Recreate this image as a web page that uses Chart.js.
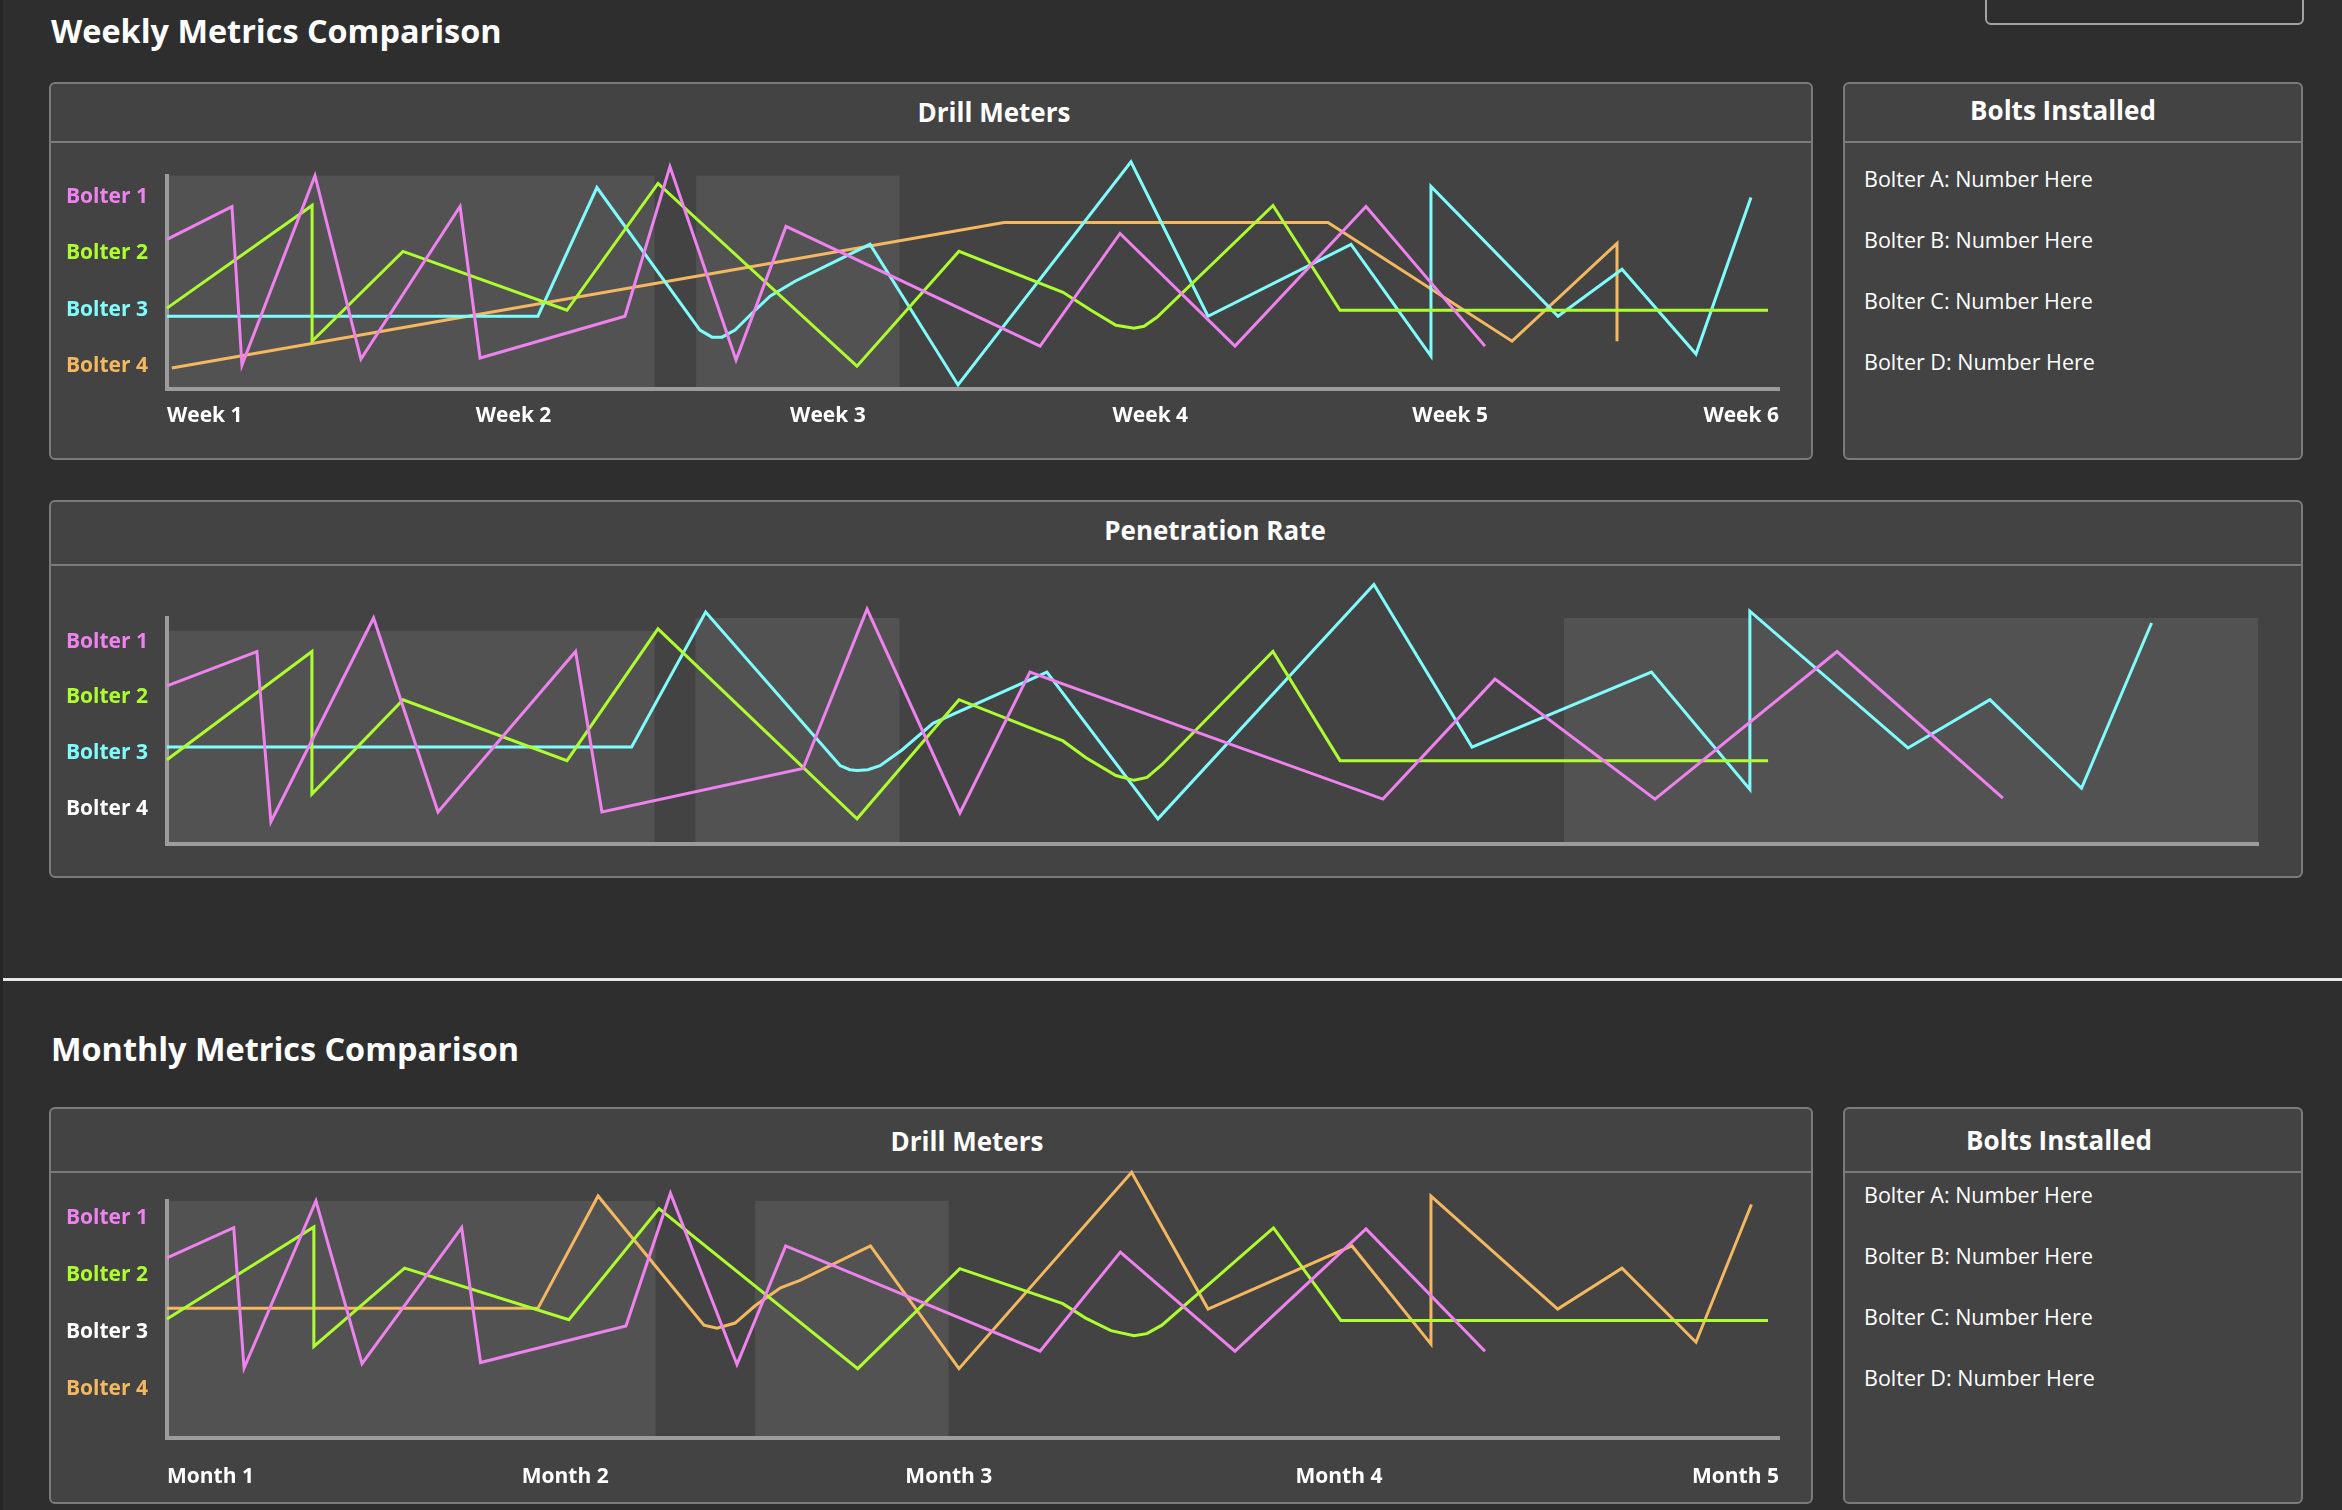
<!DOCTYPE html>
<html>
<head>
<meta charset="utf-8">
<title>Weekly / Monthly Metrics</title>
<script src="https://cdn.jsdelivr.net/npm/chart.js@4.4.1/dist/chart.umd.min.js"></script>
<style>
  html, body { margin: 0; padding: 0; }
  body { width: 2342px; height: 1510px; background: #2e2e2e; position: relative; overflow: hidden;
         font-family: 'Open Sans', sans-serif; color: #fff; }
  .abs { position: absolute; }
  .strip { left: 0; top: 0; width: 3px; height: 1510px; background: #262626; }
  .corner-box { left: 1985px; top: -12px; width: 319px; height: 37px; box-sizing: border-box;
                border: 2px solid #a3a3a3; border-radius: 6px; }
  .section-title { font-size: 32.4px; line-height: 32px; font-weight: 700; white-space: nowrap; }
  .panel { box-sizing: border-box; border: 2px solid #7b7b7b; border-radius: 6px; background: #434343; }
  .divider { height: 2px; background: #7b7b7b; }
  .head { font-size: 26px; line-height: 26px; font-weight: 700; text-align: center; width: 600px; white-space: nowrap; }
  .bolt { font-size: 21.5px; line-height: 21.5px; white-space: nowrap; }
  .rule { left: 3px; right: 0; top: 978px; height: 3px; background: #e6e6e6; }
  canvas { position: absolute; }
</style>
</head>
<body>
<div class="abs strip"></div>
<div class="abs corner-box"></div>

<div class="abs section-title" style="left:51px;top:14px">Weekly Metrics Comparison</div>

<div class="abs panel" style="left:49px;top:82px;width:1764px;height:378px"></div>
<div class="abs divider" style="left:49px;top:141px;width:1764px"></div>
<div class="abs head" style="left:694px;top:99px">Drill Meters</div>
<canvas id="weeklyDrill" width="1760" height="314" style="left:51px;top:144px"></canvas>

<div class="abs panel" style="left:1843px;top:82px;width:460px;height:378px"></div>
<div class="abs divider" style="left:1843px;top:141px;width:460px"></div>
<div class="abs head" style="left:1763px;top:97px">Bolts Installed</div>
<div id="weeklyBolts"></div>

<div class="abs panel" style="left:49px;top:500px;width:2254px;height:378px"></div>
<div class="abs divider" style="left:49px;top:564px;width:2254px"></div>
<div class="abs head" style="left:915px;top:517px">Penetration Rate</div>
<canvas id="penRate" width="2250" height="307" style="left:51px;top:569px"></canvas>

<div class="abs rule"></div>

<div class="abs section-title" style="left:51px;top:1032px">Monthly Metrics Comparison</div>

<div class="abs panel" style="left:49px;top:1107px;width:1764px;height:397px"></div>
<div class="abs divider" style="left:49px;top:1171px;width:1764px"></div>
<div class="abs head" style="left:667px;top:1128px">Drill Meters</div>
<canvas id="monthlyDrill" width="1760" height="340" style="left:51px;top:1162px"></canvas>

<div class="abs panel" style="left:1843px;top:1107px;width:460px;height:397px"></div>
<div class="abs divider" style="left:1843px;top:1171px;width:460px"></div>
<div class="abs head" style="left:1759px;top:1127px">Bolts Installed</div>
<div id="monthlyBolts"></div>

<script>
// labels
const bolterLabels = ['Bolter 1', 'Bolter 2', 'Bolter 3', 'Bolter 4'];
const bolterColors = ['#ee82ee', '#adff2f', '#80ffff', '#f4b860'];
const weekLabels = ['Week 1', 'Week 2', 'Week 3', 'Week 4', 'Week 5', 'Week 6'];
const weekTicks = [0, 21.5, 41, 61, 79.6, 100];
const monthLabels = ['Month 1', 'Month 2', 'Month 3', 'Month 4', 'Month 5'];
const monthTicks = [0, 24.7, 48.5, 72.7, 100];
const boltLines = ['Bolter A: Number Here', 'Bolter B: Number Here', 'Bolter C: Number Here', 'Bolter D: Number Here'];

// y positions of the bolter names on each chart
const weeklyBolterTicks = [90.0, 63.7, 37.0, 10.6];
const penBolterTicks = [89.3, 64.9, 40.3, 15.7];
const monthlyBolterTicks = [92.7, 68.8, 44.8, 20.7];

// shaded ranges [xFrom, xTo, yTop]
const weeklyBands = [[0, 30.25, 100], [32.82, 45.44, 100]];
const penBands = [[0, 23.32, 94.3], [25.27, 35.03, 100], [66.81, 100, 100]];
const monthlyBands = [[0, 30.31, 100], [36.48, 48.48, 100]];

//// weekly drill meters
const wdB1X = [0, 4.03, 4.65, 9.18, 12.03, 18.18, 19.42, 28.41, 31.20, 35.30, 38.40, 54.16, 59.12, 66.25, 74.38, 81.76];
const wdB1Y = [70.1, 85.5, 11.2, 100, 14.0, 85.5, 14.5, 34.1, 104.2, 13.6, 76.2, 20.1, 72.9, 20.1, 85.5, 20.1];
const wdB2X = [0, 9.0, 9.0, 14.64, 24.81, 30.46, 42.80, 49.13, 55.58, 57.32, 58.87, 59.99, 60.61, 61.41, 68.61, 72.77, 99.32];
const wdB2Y = [37.9, 86.0, 22.4, 64.5, 36.9, 96.3, 10.7, 64.5, 45.3, 36.9, 29.9, 28.5, 29.4, 33.6, 86.0, 36.9, 36.9];
const wdB3X = [0, 23.01, 26.67, 33.06, 33.81, 34.43, 35.24, 36.29, 37.41, 38.96, 43.61, 49.07, 59.80, 64.58, 73.45, 78.41, 78.41, 86.29, 90.26, 94.85, 98.26];
const wdB3Y = [34.1, 34.1, 94.4, 27.6, 24.3, 24.3, 27.6, 35.5, 43.5, 50.5, 67.8, 1.9, 106.5, 34.1, 67.8, 15.4, 94.9, 34.1, 56.1, 16.4, 89.7];
const wdB4X = [0.3, 51.92, 72.02, 83.44, 89.95, 89.95];
const wdB4Y = [9.8, 78.0, 78.0, 22.4, 68.2, 22.4];

//// penetration rate
const prB1X = [0, 4.30, 4.97, 9.88, 12.96, 19.54, 20.80, 30.42, 33.48, 37.92, 41.27, 58.15, 63.51, 71.16, 79.87, 87.80];
const prB1Y = [70.0, 85.2, 10.0, 100, 14.3, 85.2, 14.3, 33.5, 103.9, 13.9, 76.1, 20.0, 73.0, 20.0, 85.2, 20.4];
const prB2X = [0, 6.93, 6.93, 11.29, 19.13, 23.48, 33.0, 37.88, 42.85, 43.95, 45.38, 46.25, 46.87, 47.58, 52.89, 56.10, 76.57];
const prB2Y = [37.4, 85.2, 22.2, 63.9, 37.0, 95.2, 11.3, 63.9, 45.7, 38.3, 30.4, 28.3, 29.6, 35.2, 85.2, 37.0, 37.0];
const prB3X = [0, 22.22, 25.76, 32.19, 32.66, 33.0, 33.52, 34.1, 35.15, 36.63, 42.08, 47.39, 57.72, 62.41, 70.99, 75.70, 75.70, 83.26, 87.18, 91.56, 94.91];
const prB3Y = [43.0, 43.0, 102.6, 34.8, 33.0, 32.6, 33.0, 34.8, 41.7, 53.5, 76.1, 11.3, 114.8, 43.0, 76.1, 24.3, 103.0, 42.6, 63.9, 24.8, 97.8];

//// monthly drill meters
const mdB1X = [0, 4.14, 4.78, 9.24, 12.10, 18.28, 19.45, 28.47, 31.23, 35.36, 38.38, 54.16, 59.14, 66.25, 74.38, 81.76];
const mdB1Y = [76.0, 88.7, 29.4, 100, 31.2, 88.7, 31.7, 47.2, 103.3, 30.9, 81.0, 36.5, 78.4, 36.5, 88.2, 36.5];
const mdB2X = [0, 9.11, 9.11, 14.74, 24.93, 30.52, 42.85, 49.18, 55.57, 56.99, 58.56, 59.99, 60.79, 61.72, 68.64, 72.82, 99.32];
const mdB2Y = [50.1, 89.0, 38.5, 71.6, 49.8, 96.8, 29.1, 71.4, 56.6, 50.5, 45.2, 43.0, 43.9, 47.5, 88.6, 49.5, 49.5];
const mdB4X = [0, 23.01, 26.74, 33.31, 34.12, 35.24, 36.48, 38.06, 39.27, 43.64, 49.13, 59.84, 64.58, 73.51, 78.41, 78.41, 86.27, 90.26, 94.85, 98.29];
const mdB4Y = [54.6, 54.6, 102.1, 47.5, 46.2, 48.4, 55.7, 63.3, 66.4, 81.0, 29.1, 112.1, 54.3, 81.0, 39.5, 102.1, 54.3, 71.6, 40.3, 98.5];

Chart.defaults.font.family = "'Open Sans', sans-serif";

// grey blocks behind the lines
const bandPlugin = {
  id: 'bands',
  beforeDraw(chart, args, opts) {
    const { ctx, chartArea, scales } = chart;
    ctx.save();
    ctx.fillStyle = opts.color;
    (opts.ranges || []).forEach(r => {
      const left = scales.x.getPixelForValue(r[0]);
      const right = scales.x.getPixelForValue(r[1]);
      const top = scales.y.getPixelForValue(r[2]);
      ctx.fillRect(left, top, right - left, chartArea.bottom - top);
    });
    ctx.restore();
  }
};

const series = (xs, ys, color) => ({
  data: xs.map((x, i) => ({ x: x, y: ys[i] })),
  borderColor: color,
  borderWidth: 3,
  pointRadius: 0,
  tension: 0,
  fill: false,
  clip: false
});

const buildChart = (id, cfg) => {
  return new Chart(document.getElementById(id), {
    type: 'line',
    data: { datasets: cfg.datasets },
    plugins: [bandPlugin],
    options: {
      responsive: false,
      animation: false,
      events: [],
      layout: { padding: cfg.padding },
      plugins: {
        legend: { display: false },
        tooltip: { enabled: false },
        bands: { ranges: cfg.bands, color: '#525252' }
      },
      scales: {
        x: {
          type: 'linear', min: 0, max: 100,
          grid: { display: false, drawTicks: false },
          border: { color: '#9c9c9c', width: 4 },
          afterFit: s => { s.height = cfg.xHeight; },
          afterBuildTicks: s => { if (cfg.xTicks) s.ticks = cfg.xTicks.map(v => ({ value: v })); },
          ticks: {
            display: !!cfg.xLabels,
            align: 'inner', autoSkip: false, maxRotation: 0,
            padding: cfg.xPad || 0,
            color: '#ffffff',
            font: { size: 21, weight: 'bold' },
            callback: (v, i) => cfg.xLabels ? cfg.xLabels[i] : ''
          }
        },
        y: {
          type: 'linear', min: 0, max: 100,
          grid: { display: false, drawTicks: false },
          border: { color: '#9c9c9c', width: 4 },
          afterFit: s => { s.width = 116; },
          afterBuildTicks: s => { s.ticks = cfg.yTicks.map(v => ({ value: v })); },
          ticks: {
            autoSkip: false,
            padding: 19,
            font: { size: 21, weight: 'bold' },
            color: c => cfg.yColors[c.index],
            callback: (v, i) => bolterLabels[i]
          }
        }
      }
    }
  });
};

buildChart('weeklyDrill', {
  datasets: [
    series(wdB1X, wdB1Y, bolterColors[0]),
    series(wdB2X, wdB2Y, bolterColors[1]),
    series(wdB3X, wdB3Y, bolterColors[2]),
    series(wdB4X, wdB4Y, bolterColors[3])
  ],
  padding: { top: 31, right: 32, bottom: 0, left: 0 },
  xHeight: 69, xPad: 14,
  xTicks: weekTicks, xLabels: weekLabels,
  yTicks: weeklyBolterTicks,
  yColors: bolterColors,
  bands: weeklyBands
});

buildChart('penRate', {
  datasets: [
    series(prB1X, prB1Y, bolterColors[0]),
    series(prB2X, prB2Y, bolterColors[1]),
    series(prB3X, prB3Y, bolterColors[2])
  ],
  padding: { top: 49, right: 43, bottom: 0, left: 0 },
  xHeight: 26,
  yTicks: penBolterTicks,
  yColors: [bolterColors[0], bolterColors[1], bolterColors[2], '#ffffff'],
  bands: penBands
});

buildChart('monthlyDrill', {
  datasets: [
    series(mdB1X, mdB1Y, bolterColors[0]),
    series(mdB2X, mdB2Y, bolterColors[1]),
    series(mdB4X, mdB4Y, bolterColors[3])
  ],
  padding: { top: 39, right: 32, bottom: 0, left: 0 },
  xHeight: 64.5, xPad: 27,
  xTicks: monthTicks, xLabels: monthLabels,
  yTicks: monthlyBolterTicks,
  yColors: [bolterColors[0], bolterColors[1], '#ffffff', bolterColors[3]],
  bands: monthlyBands
});

// bolts installed lists
const putBolts = (id, tops) => {
  const box = document.getElementById(id);
  boltLines.forEach((t, i) => {
    const d = document.createElement('div');
    d.className = 'abs bolt';
    d.style.left = '1864px';
    d.style.top = tops[i] + 'px';
    d.textContent = t;
    box.appendChild(d);
  });
};
putBolts('weeklyBolts', [168, 229, 290, 351]);
putBolts('monthlyBolts', [1184, 1245, 1306, 1367]);
</script>
</body>
</html>
